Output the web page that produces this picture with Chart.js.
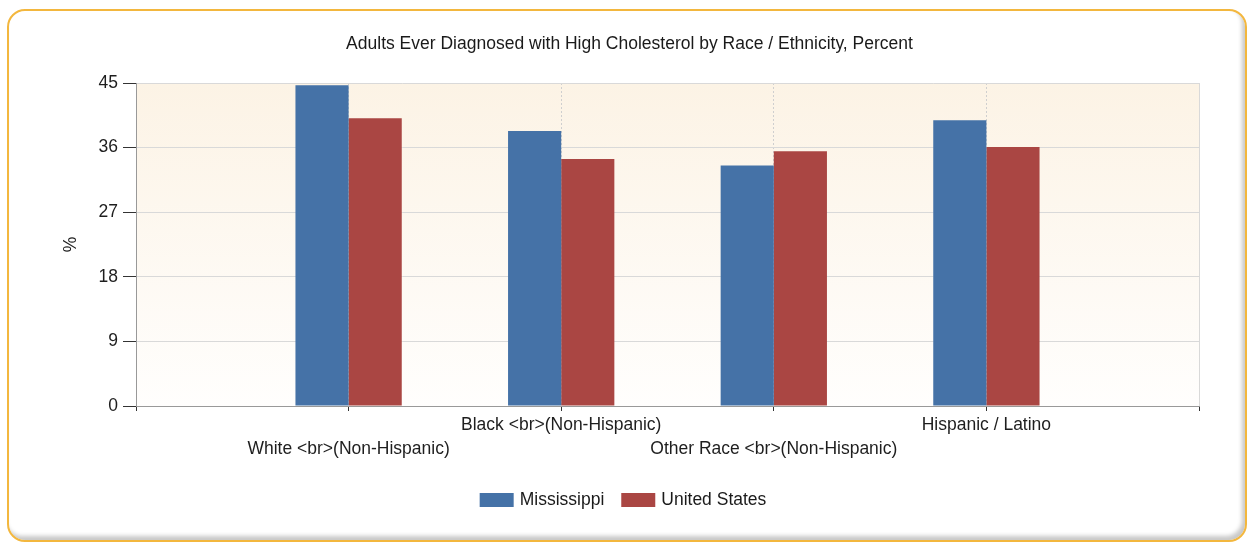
<!DOCTYPE html>
<html>
<head>
<meta charset="utf-8">
<script src="https://cdn.jsdelivr.net/npm/chart.js@4"></script>
<style>
  html, body { margin: 0; padding: 0; background: #fff; }
  #wrap { position: relative; width: 1251px; height: 544px; overflow: hidden; }
  #card {
    position: absolute; left: 7px; top: 9px; width: 1236px; height: 529px;
    border: 2px solid #f3b73e; border-radius: 18px;
    box-shadow: inset -3px -4px 4px rgba(0, 0, 0, 0.22); background: #fff;
  }
  canvas { position: absolute; left: 0; top: 0; }
</style>
</head>
<body>
<div id="wrap">
  <div id="card"></div>
  <canvas id="chart" width="1251" height="544"></canvas>
</div>
<script>
const chartTitle = 'Adults Ever Diagnosed with High Cholesterol by Race / Ethnicity, Percent';
const categories = ['White <br>(Non-Hispanic)', 'Black <br>(Non-Hispanic)', 'Other Race <br>(Non-Hispanic)', 'Hispanic / Latino'];
const mississippi = [44.7, 38.3, 33.5, 39.8];
const unitedStates = [40.1, 34.4, 35.5, 36.1];
const yTicks = [0, 9, 18, 27, 36, 45];
const seriesNames = ['Mississippi', 'United States'];
const seriesColors = ['#4572a7', '#aa4643'];

const FONT = "'Liberation Sans', Arial, sans-serif";
const FS = 17.5;
Chart.defaults.font.family = FONT;
Chart.defaults.color = '#1e1e1e';

// empty slot at each end, labels alternate between two rows
const labels = [''].concat(categories.map((c, i) => i % 2 === 0 ? ['', c] : [c, '']), ['']);
const pad = arr => [null].concat(arr, [null]);

// plot background, title and legend
const decor = {
  id: 'decor',
  beforeDraw(chart) {
    const { ctx, chartArea: a } = chart;
    const g = ctx.createLinearGradient(0, a.top, 0, a.bottom);
    g.addColorStop(0, '#fcf3e5');
    g.addColorStop(1, '#fffefd');
    ctx.save();
    ctx.fillStyle = g;
    ctx.fillRect(a.left, a.top, a.right - a.left, a.bottom - a.top);
    ctx.strokeStyle = '#d9d9d9';
    ctx.lineWidth = 1;
    ctx.beginPath();
    ctx.moveTo(a.right + 0.5, a.top);
    ctx.lineTo(a.right + 0.5, a.bottom);
    ctx.stroke();
    ctx.restore();
  },
  afterDraw(chart) {
    const ctx = chart.ctx;
    ctx.save();
    ctx.font = FS + 'px ' + FONT;
    ctx.fillStyle = '#1a1a1a';
    ctx.textAlign = 'center';
    ctx.textBaseline = 'middle';
    ctx.fillText(chartTitle, 629.5, 44);

    // legend
    const boxW = 34, boxH = 14, gapText = 6, gapItem = 17;
    const items = chart.data.datasets.map(d => ({
      label: d.label, color: d.backgroundColor, w: boxW + gapText + ctx.measureText(d.label).width
    }));
    const total = items.reduce((s, it) => s + it.w, 0) + gapItem * (items.length - 1);
    let x = 623 - total / 2;
    const y = 500;
    ctx.textAlign = 'left';
    items.forEach(it => {
      ctx.fillStyle = it.color;
      ctx.fillRect(x, y - boxH / 2, boxW, boxH);
      ctx.fillStyle = '#1a1a1a';
      ctx.fillText(it.label, x + boxW + gapText, y);
      x += it.w + gapItem;
    });
    ctx.restore();
  }
};

new Chart(document.getElementById('chart'), {
  type: 'bar',
  data: {
    labels: labels,
    datasets: [
      { label: seriesNames[0], data: pad(mississippi), backgroundColor: seriesColors[0] },
      { label: seriesNames[1], data: pad(unitedStates), backgroundColor: seriesColors[1] }
    ]
  },
  options: {
    responsive: false,
    animation: false,
    categoryPercentage: 0.5,
    barPercentage: 1.0,
    layout: { padding: { top: 83, right: 52, left: 0, bottom: 0 } },
    plugins: {
      legend: { display: false },
      title: { display: false },
      tooltip: { enabled: false }
    },
    scales: {
      x: {
        offset: false,
        afterFit(s) { s.height = 544 - 406; },
        grid: {
          offset: false,
          color: c => (c.index > 0 && c.index < labels.length - 1) ? '#cfcfcf' : 'rgba(0,0,0,0)',
          tickColor: '#333',
          tickLength: 5
        },
        border: { color: '#999', dash: [2, 2] },
        ticks: {
          autoSkip: false, maxRotation: 0, minRotation: 0, padding: 2,
          color: '#1e1e1e', font: { size: FS, lineHeight: 24 / FS }
        }
      },
      y: {
        min: 0,
        max: 45,
        afterFit(s) { s.width = 136; },
        afterBuildTicks(s) { s.ticks = yTicks.map(v => ({ value: v })); },
        grid: { color: '#d9d9d9', tickColor: '#333', tickLength: 13 },
        border: { color: '#999' },
        ticks: { color: '#1e1e1e', font: { size: FS }, padding: 5 },
        title: { display: true, text: '%', color: '#1e1e1e', font: { size: FS }, padding: { top: 61, bottom: 0 } }
      }
    }
  },
  plugins: [decor]
});
</script>
</body>
</html>
